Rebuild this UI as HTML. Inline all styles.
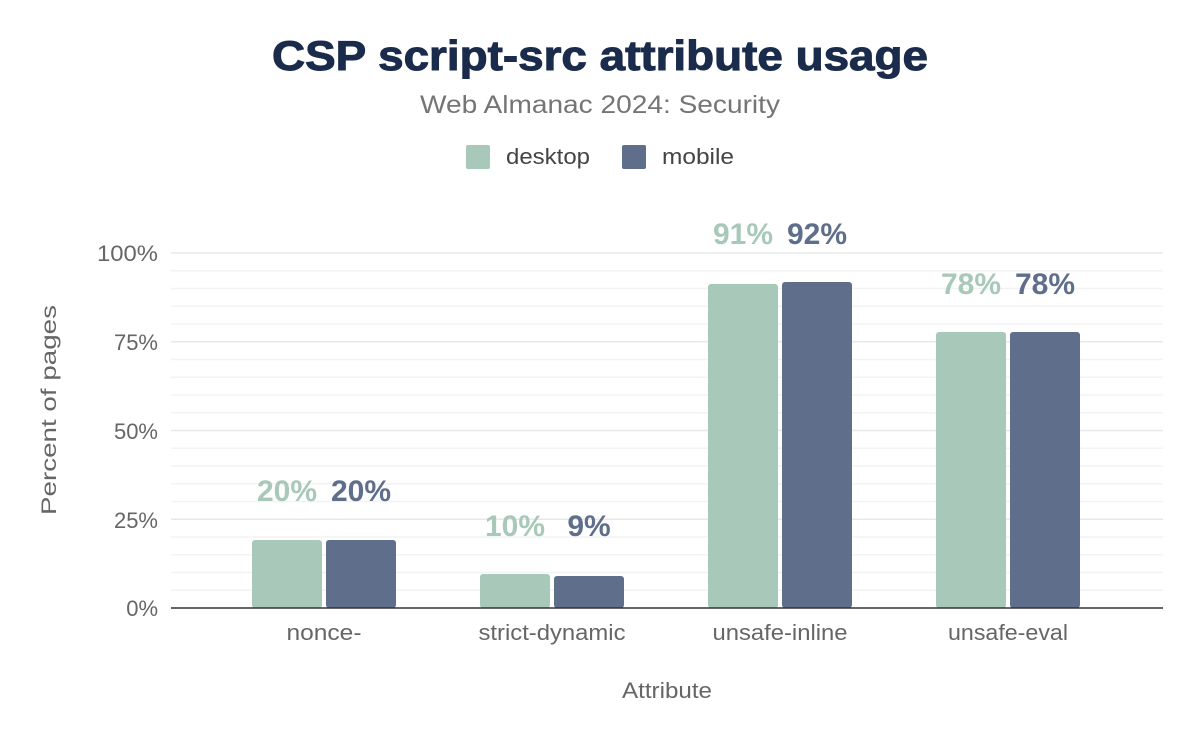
<!DOCTYPE html>
<html><head><style>body{margin:0;background:#fff}</style></head><body>
<svg width="1200" height="742" xmlns="http://www.w3.org/2000/svg" font-family="Liberation Sans, sans-serif">
<rect width="1200" height="742" fill="#fff"/>
<text x="600" y="70" text-anchor="middle" font-size="42" font-weight="900" fill="#1a2b4b" textLength="656" lengthAdjust="spacingAndGlyphs" stroke="#1a2b4b" stroke-width="1">CSP script-src attribute usage</text>
<text x="600" y="113" text-anchor="middle" font-size="25" fill="#757575" textLength="360" lengthAdjust="spacingAndGlyphs">Web Almanac 2024: Security</text>
<rect x="466" y="145" width="24" height="24" rx="2" fill="#a8c9b9"/>
<text x="506" y="164" font-size="22" fill="#444" textLength="84" lengthAdjust="spacingAndGlyphs">desktop</text>
<rect x="622" y="145" width="24" height="24" rx="2" fill="#5f6f8b"/>
<text x="662" y="164" font-size="22" fill="#444" textLength="72" lengthAdjust="spacingAndGlyphs">mobile</text>
<g stroke="#f3f3f3" stroke-width="1.5">
<line x1="171" x2="1163" y1="270.75" y2="270.75"/><line x1="171" x2="1163" y1="288.5" y2="288.5"/><line x1="171" x2="1163" y1="306.25" y2="306.25"/><line x1="171" x2="1163" y1="324" y2="324"/>
<line x1="171" x2="1163" y1="359.5" y2="359.5"/><line x1="171" x2="1163" y1="377.25" y2="377.25"/><line x1="171" x2="1163" y1="395" y2="395"/><line x1="171" x2="1163" y1="412.75" y2="412.75"/>
<line x1="171" x2="1163" y1="448.25" y2="448.25"/><line x1="171" x2="1163" y1="466" y2="466"/><line x1="171" x2="1163" y1="483.75" y2="483.75"/><line x1="171" x2="1163" y1="501.5" y2="501.5"/>
<line x1="171" x2="1163" y1="537" y2="537"/><line x1="171" x2="1163" y1="554.75" y2="554.75"/><line x1="171" x2="1163" y1="572.5" y2="572.5"/><line x1="171" x2="1163" y1="590.25" y2="590.25"/>
</g>
<g stroke="#e8e8e8" stroke-width="1.5">
<line x1="171" x2="1163" y1="253" y2="253"/><line x1="171" x2="1163" y1="341.75" y2="341.75"/><line x1="171" x2="1163" y1="430.5" y2="430.5"/><line x1="171" x2="1163" y1="519.25" y2="519.25"/>
</g>
<g font-size="22" fill="#666" text-anchor="end">
<text x="158" y="261" textLength="61" lengthAdjust="spacingAndGlyphs">100%</text><text x="158" y="350">75%</text><text x="158" y="439">50%</text><text x="158" y="528">25%</text><text x="158" y="616">0%</text>
</g>
<text transform="translate(56,410) rotate(-90)" text-anchor="middle" font-size="21" fill="#666" textLength="210" lengthAdjust="spacingAndGlyphs">Percent of pages</text>
<g fill="#a8c9b9">
<rect x="252" y="540" width="70" height="68" rx="3"/><rect x="480" y="574" width="70" height="34" rx="3"/><rect x="708" y="284" width="70" height="324" rx="3"/><rect x="936" y="332" width="70" height="276" rx="3"/>
</g>
<g fill="#5f6f8b">
<rect x="326" y="540" width="70" height="68" rx="3"/><rect x="554" y="576" width="70" height="32" rx="3"/><rect x="782" y="282" width="70" height="326" rx="3"/><rect x="1010" y="332" width="70" height="276" rx="3"/>
</g>
<line x1="171" x2="1163" y1="608" y2="608" stroke="#333" stroke-width="1.5"/>
<g font-size="30" font-weight="bold" text-anchor="middle">
<text x="287" y="501" fill="#a8c9b9">20%</text><text x="361" y="501" fill="#5f6f8b">20%</text>
<text x="515" y="536" fill="#a8c9b9">10%</text><text x="589" y="536" fill="#5f6f8b">9%</text>
<text x="743" y="244" fill="#a8c9b9">91%</text><text x="817" y="244" fill="#5f6f8b">92%</text>
<text x="971" y="294" fill="#a8c9b9">78%</text><text x="1045" y="294" fill="#5f6f8b">78%</text>
</g>
<g font-size="22" fill="#666" text-anchor="middle">
<text x="324" y="640" textLength="75" lengthAdjust="spacingAndGlyphs">nonce-</text><text x="552" y="640" textLength="147" lengthAdjust="spacingAndGlyphs">strict-dynamic</text><text x="780" y="640" textLength="135" lengthAdjust="spacingAndGlyphs">unsafe-inline</text><text x="1008" y="640" textLength="120" lengthAdjust="spacingAndGlyphs">unsafe-eval</text>
<text x="667" y="698" textLength="90" lengthAdjust="spacingAndGlyphs">Attribute</text>
</g>
</svg>
</body></html>
